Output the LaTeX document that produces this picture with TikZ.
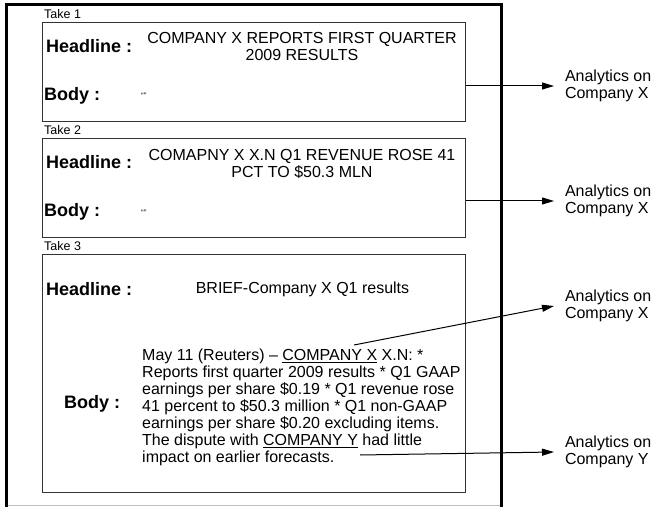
\documentclass[tikz,border=0pt]{standalone}
\usepackage{fontspec}
\setmainfont{Liberation Sans}
\usetikzlibrary{arrows.meta}

\tikzset{
  takebox/.style={draw=black!80, line width=1bp, inner sep=0pt, anchor=north west},
  takelabel/.style={inner sep=0pt, anchor=base west, font=\fontsize{12.5bp}{14bp}\selectfont},
  fieldname/.style={inner sep=0pt, anchor=west, font=\bfseries\fontsize{18bp}{20bp}\selectfont},
  newstext/.style={inner sep=0pt, font=\fontsize{16bp}{17bp}\selectfont},
  quotemark/.style={inner sep=0pt, anchor=west, font=\fontsize{8bp}{8bp}\selectfont},
  analytics/.style={inner sep=0pt, outer xsep=11bp, anchor=west, align=left, font=\fontsize{16bp}{17bp}\selectfont},
  flow/.style={line width=1bp, -{Triangle[length=12bp,width=7bp]}},
}

\begin{document}
\begin{tikzpicture}[x=1bp, y=-1bp]
  \useasboundingbox (0,0) rectangle (654,507);

  % Drawing story frame
  \draw [line width=3bp] (6,508) -- (6,5) -- (501,5) -- (501,508);%
  \draw [line width=1.5bp, black!25] (7.5,505.5) -- (499.5,505.5);%

  % Drawing take 1
  \node [takebox, minimum width=423bp, minimum height=99bp] (box1) at (42,22) {};%
  \node [takelabel] (take1) at (44,19) {Take 1};%
  \node [fieldname] (head1) at (46,46) {Headline :};%
  \node [newstext, align=center] (htext1) at (302,46.5) {COMPANY X REPORTS FIRST QUARTER\\2009 RESULTS};%
  \node [fieldname] (body1) at (44,96) {Body :};%
  \node [quotemark] (quote1) at (141,96) {``''};%

  % Drawing take 2
  \node [takebox, minimum width=423bp, minimum height=99bp] (box2) at (42,138) {};%
  \node [takelabel] (take2) at (44,135) {Take 2};%
  \node [fieldname] (head2) at (46,162) {Headline :};%
  \node [newstext, align=center] (htext2) at (302,163.5) {COMAPNY X X.N Q1 REVENUE ROSE 41\\PCT TO \$50.3 MLN};%
  \node [fieldname] (body2) at (44,212) {Body :};%
  \node [quotemark] (quote2) at (141,213) {``''};%

  % Drawing take 3
  \node [takebox, minimum width=423bp, minimum height=238bp] (box3) at (42,254) {};%
  \node [takelabel] (take3) at (44,251) {Take 3};%
  \node [fieldname] (head3) at (46,289) {Headline :};%
  \node [newstext] (htext3) at (302.5,289) {BRIEF-Company X Q1 results};%
  \node [fieldname] (body3) at (64,404) {Body :};%
  \node [newstext, align=left, anchor=north west] (btext3) at (142,349) {%
    May 11 (Reuters) -- \underline{COMPANY X} X.N: *\\
    Reports first quarter 2009 results * Q1 GAAP\\
    earnings per share \$0.19 * Q1 revenue rose\\
    41 percent to \$50.3 million * Q1 non-GAAP\\
    earnings per share \$0.20 excluding items.\\
    The dispute with \underline{COMPANY Y} had little\\
    impact on earlier forecasts.};%
  \coordinate (compx) at (354,345);%
  \coordinate (compy) at (360,455);%

  % Marking analytics
  \node [analytics] (an1) at (554,86) {Analytics on\\Company X};%
  \node [analytics] (an2) at (554,201) {Analytics on\\Company X};%
  \node [analytics] (an3) at (554,306) {Analytics on\\Company X};%
  \node [analytics] (an4) at (554,452) {Analytics on\\Company Y};%

  % Drawing arrows
  \draw [flow] (box1.east |- an1.west) -- (an1.west);%
  \draw [flow] (box2.east |- an2.west) -- (an2.west);%
  \draw [flow] (compx) -- (an3.west);%
  \draw [flow] (compy) -- (an4.west);%
\end{tikzpicture}
\end{document}
